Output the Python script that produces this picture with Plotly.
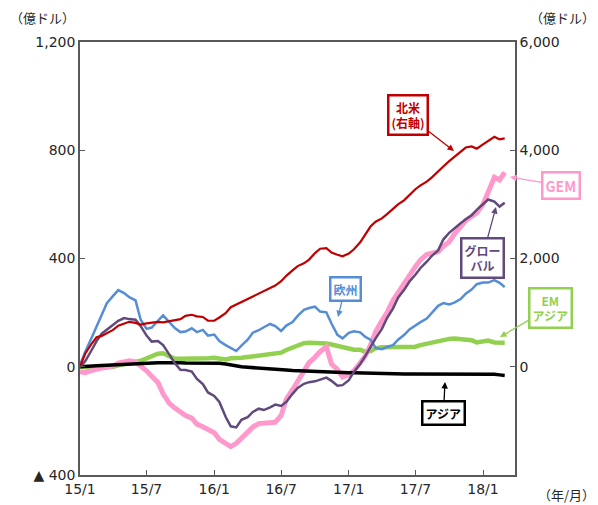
import pandas as pd
import plotly.graph_objects as go

# semi-monthly observation dates (1st and 15th) from 2015/1 to 2018/3
dates = pd.date_range(start="2015-01-01", periods=77, freq="SMS")

north_america = [0, 240, 420, 545, 570, 620, 680, 760, 800, 830,
                 810, 780, 800, 815, 830, 820, 840, 860, 880, 940,
                 960, 930, 920, 850, 850, 910, 990, 1100, 1150, 1200,
                 1250, 1296, 1350, 1400, 1450, 1500, 1580, 1680, 1780, 1860,
                 1910, 1980, 2100, 2180, 2190, 2110, 2070, 2040, 2090, 2170,
                 2300, 2450, 2590, 2680, 2740, 2820, 2920, 3000, 3080, 3180,
                 3280, 3350, 3420, 3500, 3600, 3700, 3800, 3880, 3980, 4050,
                 4070, 4030, 4110, 4170, 4250, 4200, 4220]

europe = [7, 55, 105, 150, 190, 235, 262, 283, 272, 257,
          245, 174, 140, 145, 170, 190, 165, 144, 128, 130,
          142, 128, 136, 115, 119, 95, 80, 70, 58, 78,
          100, 126, 135, 146, 158, 150, 132, 152, 165, 188,
          210, 217, 222, 204, 201, 160, 118, 105, 125, 131,
          127, 110, 100, 70, 65, 73, 80, 100, 118, 138,
          153, 165, 178, 198, 225, 235, 230, 237, 250, 270,
          285, 305, 311, 311, 320, 310, 295]

global_funds = [-2, 20, 60, 95, 122, 138, 154, 170, 180, 176,
                174, 150, 115, 93, 95, 80, 45, 15, -11, -12,
                -18, -45, -64, -95, -108, -130, -185, -220, -224, -196,
                -186, -167, -155, -160, -150, -140, -145, -130, -100, -78,
                -63, -57, -54, -48, -40, -52, -70, -68, -50, -18,
                10, 40, 75, 105, 140, 180, 215, 255, 285, 315,
                340, 365, 388, 410, 430, 470, 495, 512, 530, 545,
                560, 580, 602, 618, 610, 592, 606]

gem = [-18, -22, -14, -8, -5, -2, 3, 13, 18, 22,
       18, 5, -15, -35, -58, -100, -135, -152, -168, -180,
       -190, -212, -222, -232, -244, -268, -280, -295, -283, -265,
       -240, -223, -210, -207, -206, -205, -180, -120, -85, -55,
       -20, 15, 35, 56, 74, 10, -10, -38, -30, -15,
       15, 40, 80, 130, 170, 200, 245, 275, 305, 340,
       370, 395, 415, 420, 425, 445, 462, 490, 520, 540,
       555, 568, 600, 650, 700, 690, 718]

em_asia = [0, -3, -4, -4, -3, -3, 0, 5, 8, 14,
           18, 22, 30, 40, 48, 50, 38, 30, 30, 30,
           29, 27, 27, 31, 33, 30, 27, 31, 30, 33,
           36, 38, 40, 42, 44, 48, 52, 62, 72, 80,
           87, 89, 89, 88, 86, 82, 77, 70, 66, 63,
           63, 55, 58, 68, 72, 72, 74, 74, 74, 74,
           74, 80, 85, 90, 95, 100, 103, 104, 103, 100,
           98, 90, 92, 97, 90, 88, 89]

asia = [0, 2, 3, 4, 5, 6, 7, 8, 10, 12,
        13, 14, 14, 15, 15, 15, 16, 15, 15, 14,
        14, 13, 13, 12, 12, 13, 10, 6, 2, 0,
        -2, -3, -4, -5, -6, -8, -10, -12, -14, -15,
        -16, -17, -18, -19, -19, -20, -21, -21, -22, -22,
        -23, -23, -24, -24, -25, -25, -26, -26, -27, -27,
        -27, -26, -27, -27, -28, -27, -27, -28, -27, -28,
        -28, -28, -28, -27, -28, -30, -32]

x_tick_vals = ["2015-01-01", "2015-07-01", "2016-01-01", "2016-07-01",
               "2017-01-01", "2017-07-01", "2018-01-01"]
x_tick_text = ["15/1", "15/7", "16/1", "16/7", "17/1", "17/7", "18/1"]
left_tick_vals = [-400, 0, 400, 800, 1200]
left_tick_text = ["▲ 400", "0", "400", "800", "1,200"]
right_tick_vals = [-2000, 0, 2000, 4000, 6000]
right_tick_text = ["", "0", "2,000", "4,000", "6,000"]

C_RED = "#C00000"
C_BLUE = "#558ED5"
C_PURPLE = "#604A7B"
C_PINK = "#FF99CC"
C_GREEN = "#92D050"
C_BLACK = "#000000"
FONT = "DejaVu Sans, Noto Sans CJK JP, sans-serif"
JFONT = "Noto Sans CJK JP, sans-serif"

fig = go.Figure()
fig.add_trace(go.Scatter(x=dates, y=em_asia, mode="lines", line=dict(color=C_GREEN, width=4.5), name="EMアジア"))
fig.add_trace(go.Scatter(x=dates, y=gem, mode="lines", line=dict(color=C_PINK, width=5), name="GEM"))
fig.add_trace(go.Scatter(x=dates, y=asia, mode="lines", line=dict(color=C_BLACK, width=3.5), name="アジア"))
fig.add_trace(go.Scatter(x=dates, y=europe, mode="lines", line=dict(color=C_BLUE, width=2.5), name="欧州"))
fig.add_trace(go.Scatter(x=dates, y=global_funds, mode="lines", line=dict(color=C_PURPLE, width=2.5), name="グローバル"))
fig.add_trace(go.Scatter(x=dates, y=north_america, mode="lines", line=dict(color=C_RED, width=2.2), name="北米", yaxis="y2"))

# The page body has an 8px default margin, so the figure is 8px smaller
# and the top/left margins are 8px smaller to land on the reference pixels.
axis_line = "#595959"
fig.update_layout(
    width=590, height=497,
    margin=dict(l=72, r=83, t=34, b=30, autoexpand=False),
    paper_bgcolor="white", plot_bgcolor="white",
    showlegend=False,
    font=dict(family=FONT, size=14, color="#262626"),
    xaxis=dict(type="date", range=["2015-01-01", "2018-03-29"],
               tickvals=x_tick_vals, ticktext=x_tick_text,
               ticks="inside", ticklen=5, tickcolor=axis_line,
               showline=True, linecolor=axis_line, linewidth=1.5, mirror=True,
               showgrid=False, zeroline=False, automargin=False,
               tickfont=dict(size=14)),
    yaxis=dict(range=[-400, 1200], tickvals=left_tick_vals, ticktext=left_tick_text,
               ticks="inside", ticklen=5, tickcolor=axis_line,
               showline=True, linecolor=axis_line, linewidth=1.5, automargin=False,
               showgrid=False, zeroline=False, tickfont=dict(size=14)),
    yaxis2=dict(range=[-2000, 6000], tickvals=right_tick_vals, ticktext=right_tick_text,
                overlaying="y", side="right",
                ticks="inside", ticklen=5, tickcolor=axis_line,
                showline=True, linecolor=axis_line, linewidth=1.5, automargin=False,
                showgrid=False, zeroline=False, tickfont=dict(size=14)),
)

W, H, L, T = 435.0, 433.0, 80.0, 42.0   # plot area in page pixels

def px2paper(px, py):
    return (px - L) / W, (T + H - py) / H

# axis unit labels
for txt, px, py, anchor in [("（億ドル）", 8, 18, "left"),
                            ("（億ドル）", 597, 18, "right"),
                            ("（年/月）", 597, 494, "right")]:
    ux, uy = px2paper(px, py)
    fig.add_annotation(text=txt, xref="paper", yref="paper", x=ux, y=uy,
                       xanchor=anchor, yanchor="middle", showarrow=False,
                       font=dict(family=JFONT, size=13, color="#262626"))

def label(text, color, head, center, size=12):
    hx, hy = px2paper(*head)
    fig.add_annotation(
        text="<b>" + text + "</b>", xref="paper", yref="paper", x=hx, y=hy,
        ax=center[0] - head[0], ay=center[1] - head[1],
        showarrow=True, arrowhead=2, arrowsize=1, arrowwidth=1.3, arrowcolor=color,
        font=dict(family=JFONT, size=size, color=color),
        bordercolor=color, borderwidth=2.5, borderpad=2, bgcolor="white",
        align="center")

label("北米<br>(右軸)", C_RED, (454, 151), (407.5, 115))
label("GEM", C_PINK, (510, 177), (560.5, 185.5), size=14)
label("グロー<br>バル", C_PURPLE, (496, 207), (482, 258.5))
label("欧州", C_BLUE, (338, 317), (345, 288.5))
label("EM<br>アジア", C_GREEN, (500, 337), (550.5, 307.5))
label("アジア", C_BLACK, (445, 382), (443.5, 412.5))

fig.write_html("out.html")
